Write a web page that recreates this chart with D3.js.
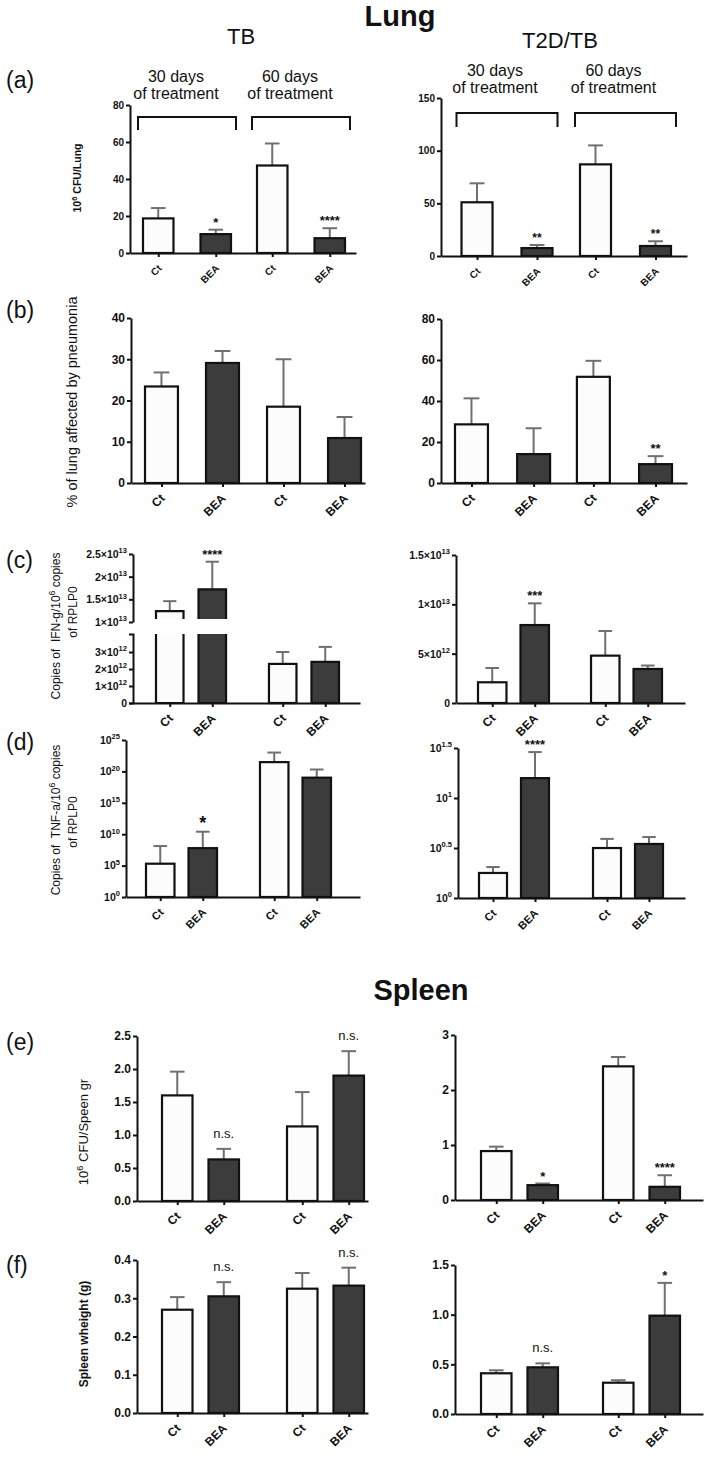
<!DOCTYPE html>
<html><head><meta charset="utf-8">
<script src="https://cdn.jsdelivr.net/npm/d3@7"></script>
<style>
body{margin:0;background:#fff}
svg{display:block}
text{font-family:"Liberation Sans",Arial,Helvetica,sans-serif;white-space:pre}
</style>
</head><body>
<svg id="chart" width="709" height="1460"></svg>
<script>
// ---------------- DATA ----------------
const treatments = ["Ct", "BEA"];
const groups = ["30 days", "60 days"];

// (a) 10^6 CFU / Lung
const aTB_mean = [18.7, 10.2, 47.3, 8.0];
const aTB_err  = [24.3, 12.6, 59.2, 13.4];
const aTB_sig  = ["", "*", "", "****"];
const aT2D_mean = [51, 7.5, 87, 9.5];
const aT2D_err  = [69, 10.4, 105, 14];
const aT2D_sig  = ["", "**", "", "**"];
const aTB_ticks = [0, 20, 40, 60, 80];
const aTB_tickLabels = ["0", "20", "40", "60", "80"];
const aT2D_ticks = [0, 50, 100, 150];
const aT2D_tickLabels = ["0", "50", "100", "150"];

// (b) % of lung affected by pneumonia
const bTB_mean = [23.4, 29.1, 18.5, 10.9];
const bTB_err  = [26.8, 32.0, 30.0, 16.0];
const bTB_sig  = ["", "", "", ""];
const bT2D_mean = [28.6, 14.1, 51.8, 9.2];
const bT2D_err  = [41.3, 26.7, 59.6, 13.1];
const bT2D_sig  = ["", "", "", "**"];
const bTB_ticks = [0, 10, 20, 30, 40];
const bTB_tickLabels = ["0", "10", "20", "30", "40"];
const bT2D_ticks = [0, 20, 40, 60, 80];
const bT2D_tickLabels = ["0", "20", "40", "60", "80"];

// (c) Copies of IFN-g / 10^6 copies of RPLP0
const cTB_mean = [1.24e13, 1.72e13, 2.3e12, 2.42e12];
const cTB_err  = [1.46e13, 2.33e13, 3.0e12, 3.3e12];
const cTB_sig  = ["", "****", "", ""];
const cT2D_mean = [2.1e12, 7.9e12, 4.8e12, 3.45e12];
const cT2D_err  = [3.55e12, 1.01e13, 7.3e12, 3.8e12];
const cT2D_sig  = ["", "***", "", ""];
const cTB_lowerTicks = [0, 1e12, 2e12, 3e12];
const cTB_lowerLabels = ["0", "1×10^{12}", "2×10^{12}", "3×10^{12}"];
const cTB_upperTicks = [1e13, 1.5e13, 2e13, 2.5e13];
const cTB_upperLabels = ["1×10^{13}", "1.5×10^{13}", "2×10^{13}", "2.5×10^{13}"];
const cT2D_ticks = [0, 5e12, 1e13, 1.5e13];
const cT2D_tickLabels = ["0", "5×10^{12}", "1×10^{13}", "1.5×10^{13}"];

// (d) Copies of TNF-a / 10^6 copies of RPLP0 (log axes)
const dTB_mean = [2e5, 6e7, 3e21, 1e19];
const dTB_err  = [1.3e8, 2.5e10, 1e23, 2e20];
const dTB_sig  = ["", "*", "", ""];
const dT2D_mean = [1.78, 15.8, 3.16, 3.47];
const dT2D_err  = [2.04, 28.8, 3.9, 4.07];
const dT2D_sig  = ["", "****", "", ""];
const dTB_ticks = [1, 1e5, 1e10, 1e15, 1e20, 1e25];
const dTB_tickLabels = ["10^{0}", "10^{5}", "10^{10}", "10^{15}", "10^{20}", "10^{25}"];
const dT2D_ticks = [1, 3.1623, 10, 31.623];
const dT2D_tickLabels = ["10^{0}", "10^{0.5}", "10^{1}", "10^{1.5}"];

// (e) 10^6 CFU / Spleen gr
const eTB_mean = [1.6, 0.63, 1.13, 1.9];
const eTB_err  = [1.96, 0.79, 1.65, 2.27];
const eTB_sig  = ["", "n.s.", "", "n.s."];
const eT2D_mean = [0.89, 0.27, 2.43, 0.24];
const eT2D_err  = [0.97, 0.30, 2.60, 0.45];
const eT2D_sig  = ["", "*", "", "****"];
const eTB_ticks = [0, 0.5, 1, 1.5, 2, 2.5];
const eTB_tickLabels = ["0.0", "0.5", "1.0", "1.5", "2.0", "2.5"];
const eT2D_ticks = [0, 1, 2, 3];
const eT2D_tickLabels = ["0", "1", "2", "3"];

// (f) Spleen weight (g)
const fTB_mean = [0.27, 0.305, 0.325, 0.333];
const fTB_err  = [0.303, 0.342, 0.366, 0.38];
const fTB_sig  = ["", "n.s.", "", "n.s."];
const fT2D_mean = [0.41, 0.47, 0.315, 0.99];
const fT2D_err  = [0.44, 0.51, 0.34, 1.32];
const fT2D_sig  = ["", "n.s.", "", "*"];
const fTB_ticks = [0, 0.1, 0.2, 0.3, 0.4];
const fTB_tickLabels = ["0.0", "0.1", "0.2", "0.3", "0.4"];
const fT2D_ticks = [0, 0.5, 1, 1.5];
const fT2D_tickLabels = ["0.0", "0.5", "1.0", "1.5"];

// ---------------- DRAWING ----------------
const svg = d3.select("#chart");
const INK = "#111";
const WHITE_FILL = "#fcfcfc";
const DARK_FILL = "#3c3c3c";
const ERR_COLOR = "#707070";

function rich(sel, str, size) {
  sel.text(null);
  const parts = str.split(/(\^\{[^}]*\})/);
  const supSize = size * 0.72, shift = size * 0.42;
  let raised = false;
  parts.forEach(p => {
    if (!p) return;
    const m = p.match(/^\^\{([^}]*)\}$/);
    if (m) {
      sel.append("tspan").attr("font-size", supSize).attr("dy", -shift).text(m[1]);
      raised = true;
    } else {
      const t = sel.append("tspan").text(p);
      if (raised) { t.attr("dy", shift); raised = false; }
    }
  });
}

function styleAxis(ag, size, weight) {
  ag.attr("font-family", null).attr("font-size", null);
  ag.select(".domain").attr("stroke", INK).attr("stroke-width", 2);
  ag.selectAll(".tick line").attr("stroke", INK).attr("stroke-width", 2);
  ag.selectAll(".tick text").attr("fill", INK).attr("font-size", size).attr("font-weight", weight || "bold");
}

function yAxis(g, scale, ticks, labels, x, size, outer) {
  const ax = d3.axisLeft(scale).tickValues(ticks).tickSize(4).tickPadding(2).tickSizeOuter(outer || 0);
  const ag = g.append("g").attr("transform", `translate(${x},0)`).call(ax);
  styleAxis(ag, size);
  ag.selectAll(".tick text").each(function(d, i) { rich(d3.select(this), labels[i], size); });
  return ag;
}

function panel(cfg) {
  const g = svg.append("g");
  let yPos, yBottom, lowerMax = Infinity, lowerTop, upperBottom;

  if (cfg.type === "broken") {
    const yL = d3.scaleLinear().domain(cfg.lowerDomain).range(cfg.lowerRange);
    const yU = d3.scaleLinear().domain(cfg.upperDomain).range(cfg.upperRange);
    lowerMax = cfg.lowerDomain[1];
    lowerTop = cfg.lowerRange[1];
    upperBottom = cfg.upperRange[0];
    yPos = v => v <= lowerMax ? yL(v) : yU(v);
    yBottom = cfg.lowerRange[0];
    cfg._yL = yL; cfg._yU = yU;
  } else {
    const ys = (cfg.type === "log" ? d3.scaleLog() : d3.scaleLinear()).domain(cfg.yDomain).range(cfg.yRange);
    yPos = v => ys(v);
    yBottom = cfg.yRange[0];
    cfg._ys = ys;
  }

  const outerB = d3.scaleBand().domain(groups).range(cfg.barRange).paddingInner(cfg.gp).paddingOuter(0);
  const innerB = d3.scaleBand().domain(treatments).range([0, outerB.bandwidth()]).paddingInner(cfg.ip).paddingOuter(0);

  const bars = cfg.mean.map((m, i) => {
    const grp = groups[Math.floor(i / 2)], tr = treatments[i % 2];
    const x = outerB(grp) + innerB(tr), w = innerB.bandwidth();
    return { grp, tr, mean: m, err: cfg.err[i], sig: cfg.sig[i], x, w, cx: x + w / 2, dark: i % 2 === 1 };
  });

  // error bars (upper whisker only)
  bars.forEach(b => {
    const cap = b.w * 0.48;
    g.append("line").attr("x1", b.cx).attr("x2", b.cx).attr("y1", yPos(b.mean)).attr("y2", yPos(b.err))
      .attr("stroke", ERR_COLOR).attr("stroke-width", 2);
    g.append("line").attr("x1", b.cx - cap / 2).attr("x2", b.cx + cap / 2).attr("y1", yPos(b.err)).attr("y2", yPos(b.err))
      .attr("stroke", ERR_COLOR).attr("stroke-width", 2);
  });

  // bars
  bars.forEach(b => {
    const fill = b.dark ? DARK_FILL : WHITE_FILL;
    if (b.mean > lowerMax) {
      g.append("rect").attr("x", b.x).attr("y", lowerTop).attr("width", b.w).attr("height", yBottom - lowerTop).attr("fill", fill);
      g.append("path").attr("d", `M${b.x},${lowerTop}V${yBottom}H${b.x + b.w}V${lowerTop}`)
        .attr("fill", "none").attr("stroke", INK).attr("stroke-width", 2.2);
      const top = yPos(b.mean), bot = upperBottom - 3;
      g.append("rect").attr("x", b.x).attr("y", top).attr("width", b.w).attr("height", bot - top).attr("fill", fill);
      g.append("path").attr("d", `M${b.x},${bot}V${top}H${b.x + b.w}V${bot}`)
        .attr("fill", "none").attr("stroke", INK).attr("stroke-width", 2.2);
    } else {
      const top = yPos(b.mean);
      g.append("rect").attr("x", b.x).attr("y", top).attr("width", b.w).attr("height", yBottom - top)
        .attr("fill", fill).attr("stroke", INK).attr("stroke-width", 2.2);
    }
  });

  // y axis
  if (cfg.type === "broken") {
    yAxis(g, cfg._yL, cfg.lowerTicks, cfg.lowerLabels, cfg.ax0, cfg.tickFont, 4);
    yAxis(g, cfg._yU, cfg.upperTicks, cfg.upperLabels, cfg.ax0, cfg.tickFont, 0);
  } else {
    yAxis(g, cfg._ys, cfg.ticks, cfg.tickLabels, cfg.ax0, cfg.tickFont, 0);
  }

  // x axis with ticks at bar centres and -45° category labels
  const xl = d3.scaleLinear().domain([cfg.ax0, cfg.ax1]).range([cfg.ax0, cfg.ax1]);
  const xa = d3.axisBottom(xl).tickValues(bars.map(b => b.cx)).tickFormat(() => "")
    .tickSize(4).tickSizeOuter(0);
  const xg = g.append("g").attr("transform", `translate(0,${yBottom})`).call(xa);
  styleAxis(xg, cfg.xFont);
  xg.selectAll(".tick text").remove();
  g.selectAll("text.xlab").data(bars).enter().append("text").attr("class", "xlab")
    .attr("transform", b => `translate(${b.cx + 4},${yBottom + 16}) rotate(-45)`)
    .attr("text-anchor", "end").attr("font-size", cfg.xFont).attr("font-weight", "bold")
    .attr("fill", INK).text(b => b.tr);

  // significance marks
  bars.filter(b => b.sig).forEach(b => {
    const ns = b.sig === "n.s.";
    g.append("text").attr("x", b.cx).attr("y", yPos(b.err) - (ns ? 11 : 3))
      .attr("text-anchor", "middle").attr("font-size", ns ? 13 : (cfg.sigFont || 13))
      .attr("font-weight", ns ? "normal" : "bold").attr("fill", INK).text(b.sig);
  });

  // y label
  if (cfg.ylab) {
    cfg.ylab.lines.forEach((ln, i) => {
      const t = g.append("text")
        .attr("transform", `translate(${cfg.ylab.xs[i]},${cfg.ylab.ys ? cfg.ylab.ys[i] : cfg.ylab.y}) rotate(-90)`)
        .attr("text-anchor", "middle").attr("font-size", cfg.ylab.size)
        .attr("font-weight", cfg.ylab.weight).attr("fill", INK);
      rich(t, ln, cfg.ylab.size);
    });
  }

  // treatment-period brackets for row (a)
  if (cfg.bracket) {
    const bk = cfg.bracket;
    groups.forEach(grp => {
      const x0 = outerB(grp) - bk.ext, x1 = outerB(grp) + outerB.bandwidth() + bk.ext;
      g.append("path").attr("d", `M${x0},${bk.yb}V${bk.yt}H${x1}V${bk.yb}`)
        .attr("fill", "none").attr("stroke", INK).attr("stroke-width", 2);
      const cx = outerB(grp) + outerB.bandwidth() / 2 + bk.dx;
      g.append("text").attr("x", cx).attr("y", bk.base1).attr("text-anchor", "middle")
        .attr("font-size", 16).attr("fill", INK).text(grp);
      g.append("text").attr("x", cx).attr("y", bk.base2).attr("text-anchor", "middle")
        .attr("font-size", 16).attr("fill", INK).text("of treatment");
    });
  }
}

// ---------------- LAYOUT ----------------
const panels = [
  { mean: aTB_mean, err: aTB_err, sig: aTB_sig, type: "linear", yDomain: [0, 80], yRange: [253, 105],
    ticks: aTB_ticks, tickLabels: aTB_tickLabels, ax0: 130, ax1: 356, barRange: [143, 345], gp: 0.228, ip: 0.47,
    tickFont: 10, xFont: 10, sigFont: 13,
    ylab: { lines: ["10^{6} CFU/Lung"], xs: [81], y: 178, size: 10.5, weight: "bold" },
    bracket: { yt: 117, yb: 130, ext: 5, dx: -11, base1: 82, base2: 99 } },
  { mean: aT2D_mean, err: aT2D_err, sig: aT2D_sig, type: "linear", yDomain: [0, 150], yRange: [256, 98],
    ticks: aT2D_ticks, tickLabels: aT2D_tickLabels, ax0: 441, ax1: 687, barRange: [461.5, 671], gp: 0.232, ip: 0.483,
    tickFont: 10, xFont: 10, sigFont: 12,
    bracket: { yt: 113, yb: 127, ext: 5, dx: -12, base1: 76, base2: 93 } },

  { mean: bTB_mean, err: bTB_err, sig: bTB_sig, type: "linear", yDomain: [0, 40], yRange: [483, 318],
    ticks: bTB_ticks, tickLabels: bTB_tickLabels, ax0: 131, ax1: 365, barRange: [145, 361], gp: 0.23, ip: 0.46,
    tickFont: 12, xFont: 12,
    ylab: { lines: ["% of lung affected by pneumonia"], xs: [77], y: 402, size: 14.5, weight: "normal" } },
  { mean: bT2D_mean, err: bT2D_err, sig: bT2D_sig, type: "linear", yDomain: [0, 80], yRange: [483, 319],
    ticks: bT2D_ticks, tickLabels: bT2D_tickLabels, ax0: 441, ax1: 687, barRange: [455, 672], gp: 0.22, ip: 0.47,
    tickFont: 12, xFont: 12 },

  { mean: cTB_mean, err: cTB_err, sig: cTB_sig, type: "broken",
    lowerDomain: [0, 4.06e12], lowerRange: [703, 634], upperDomain: [1e13, 2.5e13], upperRange: [622, 554],
    lowerTicks: cTB_lowerTicks, lowerLabels: cTB_lowerLabels, upperTicks: cTB_upperTicks, upperLabels: cTB_upperLabels,
    ax0: 133, ax1: 360, barRange: [156, 339], gp: 0.38, ip: 0.353, tickFont: 10.5, xFont: 12,
    ylab: { lines: ["Copies of  IFN-g/10^{6} copies", "of RPLP0"], xs: [60, 77], ys: [626, 612], size: 12, weight: "normal" } },
  { mean: cT2D_mean, err: cT2D_err, sig: cT2D_sig, type: "linear", yDomain: [0, 1.5e13], yRange: [703, 555],
    ticks: cT2D_ticks, tickLabels: cT2D_tickLabels, ax0: 456, ax1: 685, barRange: [478, 662], gp: 0.372, ip: 0.33,
    tickFont: 10.5, xFont: 12 },

  { mean: dTB_mean, err: dTB_err, sig: dTB_sig, type: "log", yDomain: [1, 1e25], yRange: [897, 740],
    ticks: dTB_ticks, tickLabels: dTB_tickLabels, ax0: 126, ax1: 360, barRange: [146, 331], gp: 0.377, ip: 0.33,
    tickFont: 10.5, xFont: 11, sigFont: 18,
    ylab: { lines: ["Copies of  TNF-a/10^{6} copies", "of RPLP0"], xs: [60, 77], ys: [820, 822], size: 12, weight: "normal" } },
  { mean: dT2D_mean, err: dT2D_err, sig: dT2D_sig, type: "log", yDomain: [1, 31.623], yRange: [898, 748],
    ticks: dT2D_ticks, tickLabels: dT2D_tickLabels, ax0: 458, ax1: 685, barRange: [479, 663], gp: 0.386, ip: 0.333,
    tickFont: 10.5, xFont: 11 },

  { mean: eTB_mean, err: eTB_err, sig: eTB_sig, type: "linear", yDomain: [0, 2.5], yRange: [1201, 1036],
    ticks: eTB_ticks, tickLabels: eTB_tickLabels, ax0: 137, ax1: 368, barRange: [162, 364], gp: 0.384, ip: 0.344,
    tickFont: 12, xFont: 12,
    ylab: { lines: ["10^{6} CFU/Speen gr"], xs: [88], y: 1132, size: 13, weight: "normal" } },
  { mean: eT2D_mean, err: eT2D_err, sig: eT2D_sig, type: "linear", yDomain: [0, 3], yRange: [1200, 1035],
    ticks: eT2D_ticks, tickLabels: eT2D_tickLabels, ax0: 455, ax1: 703, barRange: [481, 680], gp: 0.369, ip: 0.344,
    tickFont: 12, xFont: 12 },

  { mean: fTB_mean, err: fTB_err, sig: fTB_sig, type: "linear", yDomain: [0, 0.4], yRange: [1413, 1260],
    ticks: fTB_ticks, tickLabels: fTB_tickLabels, ax0: 137, ax1: 368, barRange: [162, 364], gp: 0.384, ip: 0.344,
    tickFont: 12, xFont: 12,
    ylab: { lines: ["Spleen wheight (g)"], xs: [88], y: 1334, size: 12, weight: "bold" } },
  { mean: fT2D_mean, err: fT2D_err, sig: fT2D_sig, type: "linear", yDomain: [0, 1.5], yRange: [1414, 1265],
    ticks: fT2D_ticks, tickLabels: fT2D_tickLabels, ax0: 455, ax1: 703, barRange: [481, 680], gp: 0.369, ip: 0.344,
    tickFont: 12, xFont: 12 }
];

panels.forEach(panel);

// titles and panel letters
const titles = [
  { t: "Lung", x: 400, y: 26, size: 29, w: "bold" },
  { t: "TB", x: 241, y: 44, size: 22, w: "normal" },
  { t: "T2D/TB", x: 560, y: 48, size: 22, w: "normal" },
  { t: "Spleen", x: 421, y: 1000, size: 29, w: "bold" }
];
titles.forEach(d => svg.append("text").attr("x", d.x).attr("y", d.y).attr("text-anchor", "middle")
  .attr("font-size", d.size).attr("font-weight", d.w).attr("fill", INK).text(d.t));

const letters = [["(a)", 88], ["(b)", 318], ["(c)", 568], ["(d)", 750], ["(e)", 1050], ["(f)", 1273]];
letters.forEach(([t, y]) => svg.append("text").attr("x", 6).attr("y", y).attr("font-size", 23)
  .attr("fill", INK).text(t));
</script>
</body></html>
